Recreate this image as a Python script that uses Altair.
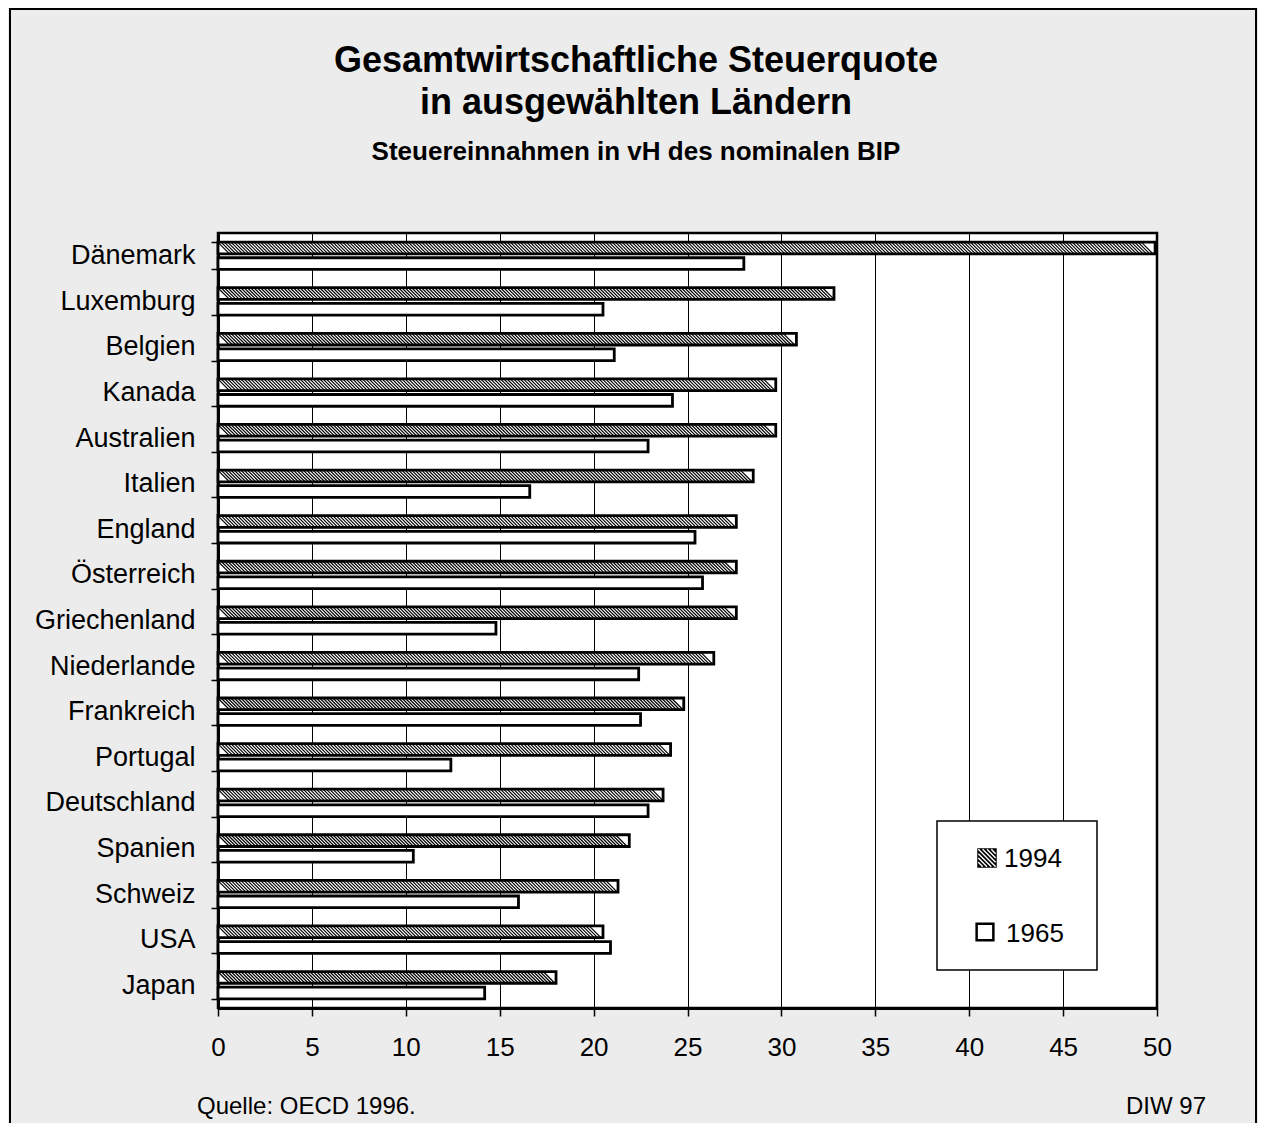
import altair as alt
import pandas as pd

# ---------------- data ----------------
COUNTRIES = ["Dänemark", "Luxemburg", "Belgien", "Kanada", "Australien", "Italien",
             "England", "Österreich", "Griechenland", "Niederlande", "Frankreich",
             "Portugal", "Deutschland", "Spanien", "Schweiz", "USA", "Japan"]
VALUES_1994 = [49.9, 32.8, 30.8, 29.7, 29.7, 28.5, 27.6, 27.6, 27.6, 26.4, 24.8,
               24.1, 23.7, 21.9, 21.3, 20.5, 18.0]
VALUES_1965 = [28.0, 20.5, 21.1, 24.2, 22.9, 16.6, 25.4, 25.8, 14.8, 22.4, 22.5,
               12.4, 22.9, 10.4, 16.0, 20.9, 14.2]
YEARS = ["1994", "1965"]
X_TICKS = [0, 5, 10, 15, 20, 25, 30, 35, 40, 45, 50]
TITLE_LINES = ["Gesamtwirtschaftliche Steuerquote", "in ausgewählten Ländern"]
SUBTITLE = "Steuereinnahmen in vH des nominalen BIP"
SOURCE = "Quelle: OECD 1996."
CREDIT = "DIW 97"

rows = []
for c, a, b in zip(COUNTRIES, VALUES_1994, VALUES_1965):
    rows.append({"country": c, "year": YEARS[0], "value": a})
    rows.append({"country": c, "year": YEARS[1], "value": b})
df = pd.DataFrame(rows)
ONE = pd.DataFrame({"k": [0]})

FONT = "Liberation Sans"
W, H = 939, 775

x_axis = alt.Axis(values=X_TICKS, title=None, grid=True, gridColor="black", gridWidth=1,
                  gridOpacity=1, domainColor="black", domainWidth=3, tickColor="black",
                  tickSize=8, tickWidth=1.5, labelFont=FONT, labelFontSize=26,
                  labelColor="black", labelPadding=18, labelFlush=False)
y_axis = alt.Axis(title=None, tickBand="extent", domainColor="black", domainWidth=3,
                  tickColor="black", tickSize=7, tickWidth=1.5, labelFont=FONT,
                  labelFontSize=27, labelColor="black", labelPadding=16)
x_scale = alt.Scale(domain=[0, 50], nice=False, zero=True)
y_scale = alt.Scale(paddingInner=0.40, paddingOuter=0.20)
yo_scale = alt.Scale(domain=YEARS, paddingInner=0.25, paddingOuter=0)

def X(field):
    return alt.X(field, scale=x_scale, axis=x_axis)

Y = alt.Y("country:N", sort=COUNTRIES, scale=y_scale, axis=y_axis)
YO = alt.YOffset("year:N", scale=yo_scale)

bars_fill = alt.Chart(df).mark_bar(fill="white", strokeWidth=0).encode(
    x=X("value:Q"), y=Y, yOffset=YO)

hatch = alt.Chart(df).transform_filter(
    alt.datum.year == YEARS[0]
).transform_calculate(
    pos="sequence(0.3, datum.value - 0.25, 0.175)"
).transform_flatten(["pos"]).mark_point(
    shape="M-1,-1L1,1", size=137, filled=False, stroke="black", strokeWidth=1.2, opacity=1
).encode(x=X("pos:Q"), y=Y, yOffset=YO)

bars_outline = alt.Chart(df).mark_bar(fillOpacity=0, stroke="black", strokeWidth=2.8).encode(
    x=X("value:Q"), y=Y, yOffset=YO)

def text(t, x, y, size, weight="normal", align="left"):
    return alt.Chart(ONE).mark_text(text=t, font=FONT, fontSize=size, fontWeight=weight,
                                    align=align, baseline="alphabetic", color="black").encode(
        x=alt.value(x), y=alt.value(y))

frame = alt.Chart(ONE).mark_rect(fillOpacity=0, stroke="black", strokeWidth=2).encode(
    x=alt.value(-208), x2=alt.value(1038), y=alt.value(-224), y2=alt.value(1000))

legend_box = alt.Chart(ONE).mark_rect(fill="white", stroke="black", strokeWidth=1.5).encode(
    x=alt.value(719), x2=alt.value(879), y=alt.value(588), y2=alt.value(737))
leg_sq1 = alt.Chart(ONE).mark_square(size=380, color="black", opacity=1).encode(
    x=alt.value(769), y=alt.value(625))
STRIPES = ("M-1,-1L1,1M-0.5,-1L1,0.5M0,-1L1,0M0.5,-1L1,-0.5"
           "M-1,-0.5L0.5,1M-1,0L0,1M-1,0.5L-0.5,1")
leg_str = alt.Chart(ONE).mark_point(shape=STRIPES, size=300, filled=False, stroke="white",
                                    strokeWidth=1.4, opacity=1).encode(
    x=alt.value(769), y=alt.value(625))
leg_sq2 = alt.Chart(ONE).mark_square(size=280, fill="white", stroke="black",
                                     strokeWidth=2.5, opacity=1).encode(
    x=alt.value(767), y=alt.value(699))

chart = alt.layer(
    frame, bars_fill, hatch, bars_outline,
    legend_box, leg_sq1, leg_str, leg_sq2,
    text(YEARS[0], 786, 634, 26),
    text(YEARS[1], 788, 709, 26),
    text(TITLE_LINES[0], 418, -161, 36, "bold", "center"),
    text(TITLE_LINES[1], 418, -119, 36, "bold", "center"),
    text(SUBTITLE, 418, -73, 26, "bold", "center"),
    text(SOURCE, -21, 881, 24),
    text(CREDIT, 988, 881, 24, align="right"),
).properties(
    width=W, height=H,
    padding={"left": 210, "top": 225, "right": 101, "bottom": 115},
    autosize=alt.AutoSizeParams(type="none"),
).configure(
    background="#ececec", font=FONT
).configure_view(
    fill="white", stroke="black", strokeWidth=2.5
)

chart.save("out.html", embed_options={"renderer": "svg", "actions": False})
